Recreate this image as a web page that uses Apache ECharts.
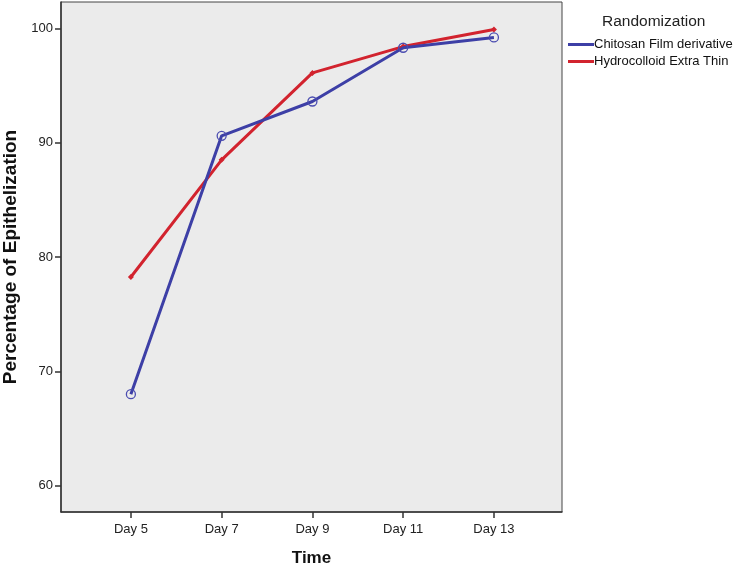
<!DOCTYPE html>
<html>
<head>
<meta charset="utf-8">
<script src="https://cdn.jsdelivr.net/npm/echarts@6/dist/echarts.min.js"></script>
<style>html,body{margin:0;padding:0;background:#fff}#c{width:735px;height:566px}</style>
</head>
<body>
<div id="c"></div>
<script>
var days = [5, 7, 9, 11, 13];
var dayLabels = ['Day 5', 'Day 7', 'Day 9', 'Day 11', 'Day 13'];
var yTicks = [60, 70, 80, 90, 100];
var chitosan = [68.0, 90.6, 93.6, 98.3, 99.2];
var hydrocolloid = [78.25, 88.5, 96.1, 98.4, 99.9];
var seriesNames = ['Chitosan Film derivative', 'Hydrocolloid Extra Thin'];
var seriesColors = ['#3d3fa6', '#d2232e'];

var chart = echarts.init(document.getElementById('c'));
var font = 'Liberation Sans, Arial, sans-serif';
function pairs(vals){ return days.map(function(d,i){ return [d, vals[i]]; }); }
chart.setOption({
  animation: false,
  title: {
    text: 'Randomization', left: 597, top: 9,
    textStyle: {fontFamily: font, fontSize: 15.5, fontWeight: 'normal', color: '#222'}
  },
  legend: {
    orient: 'vertical', left: 563, top: 33, itemGap: 4,
    itemWidth: 26, itemHeight: 3, icon: 'rect',
    textStyle: {fontFamily: font, fontSize: 13, color: '#111', padding: [0,0,0,-5]},
    data: [
      {name: seriesNames[0], itemStyle: {color: seriesColors[0], borderWidth: 0}},
      {name: seriesNames[1], itemStyle: {color: seriesColors[1], borderWidth: 0}}
    ]
  },
  grid: {
    left: 61, top: 2, right: 173, bottom: 54,
    outerBoundsMode: 'none', containLabel: false,
    show: true, backgroundColor: '#ebebeb', borderColor: '#444', borderWidth: 1
  },
  xAxis: {
    type: 'value', min: 3.46, max: 14.5,
    name: 'Time', nameLocation: 'middle', nameGap: 38,
    nameTextStyle: {fontFamily: font, fontSize: 17, fontWeight: 'bold', color: '#111'},
    axisLine: {show: true, lineStyle: {color: '#333', width: 1.5}},
    axisTick: {show: true, length: 6, lineStyle: {color: '#333', width: 1.5}, customValues: days},
    axisLabel: {
      fontFamily: font, fontSize: 13, color: '#222', margin: 11,
      customValues: days,
      formatter: function(v){ var i = days.indexOf(v); return i >= 0 ? dayLabels[i] : ''; }
    },
    splitLine: {show: false}
  },
  yAxis: {
    type: 'value', min: 57.7, max: 102.3,
    name: 'Percentage of Epithelization', nameLocation: 'middle', nameGap: 39,
    nameTextStyle: {fontFamily: font, fontSize: 19, fontWeight: 'bold', color: '#111'},
    axisLine: {show: true, lineStyle: {color: '#333', width: 1.5}},
    axisTick: {show: true, length: 6, lineStyle: {color: '#333', width: 1.5}, customValues: yTicks},
    axisLabel: {fontFamily: font, fontSize: 13, color: '#222', margin: 8, customValues: yTicks},
    splitLine: {show: false}
  },
  series: [
    {
      name: seriesNames[0], type: 'line', data: pairs(chitosan),
      symbol: 'circle', symbolSize: 9,
      lineStyle: {color: seriesColors[0], width: 3},
      itemStyle: {color: 'rgba(0,0,0,0)', borderWidth: 1.3, borderColor: '#4a4cb0'},
      z: 3
    },
    {
      name: seriesNames[1], type: 'line', data: pairs(hydrocolloid),
      symbol: 'diamond', symbolSize: 6,
      lineStyle: {color: seriesColors[1], width: 3},
      itemStyle: {color: seriesColors[1]},
      z: 2
    }
  ]
});
</script>
</body>
</html>
